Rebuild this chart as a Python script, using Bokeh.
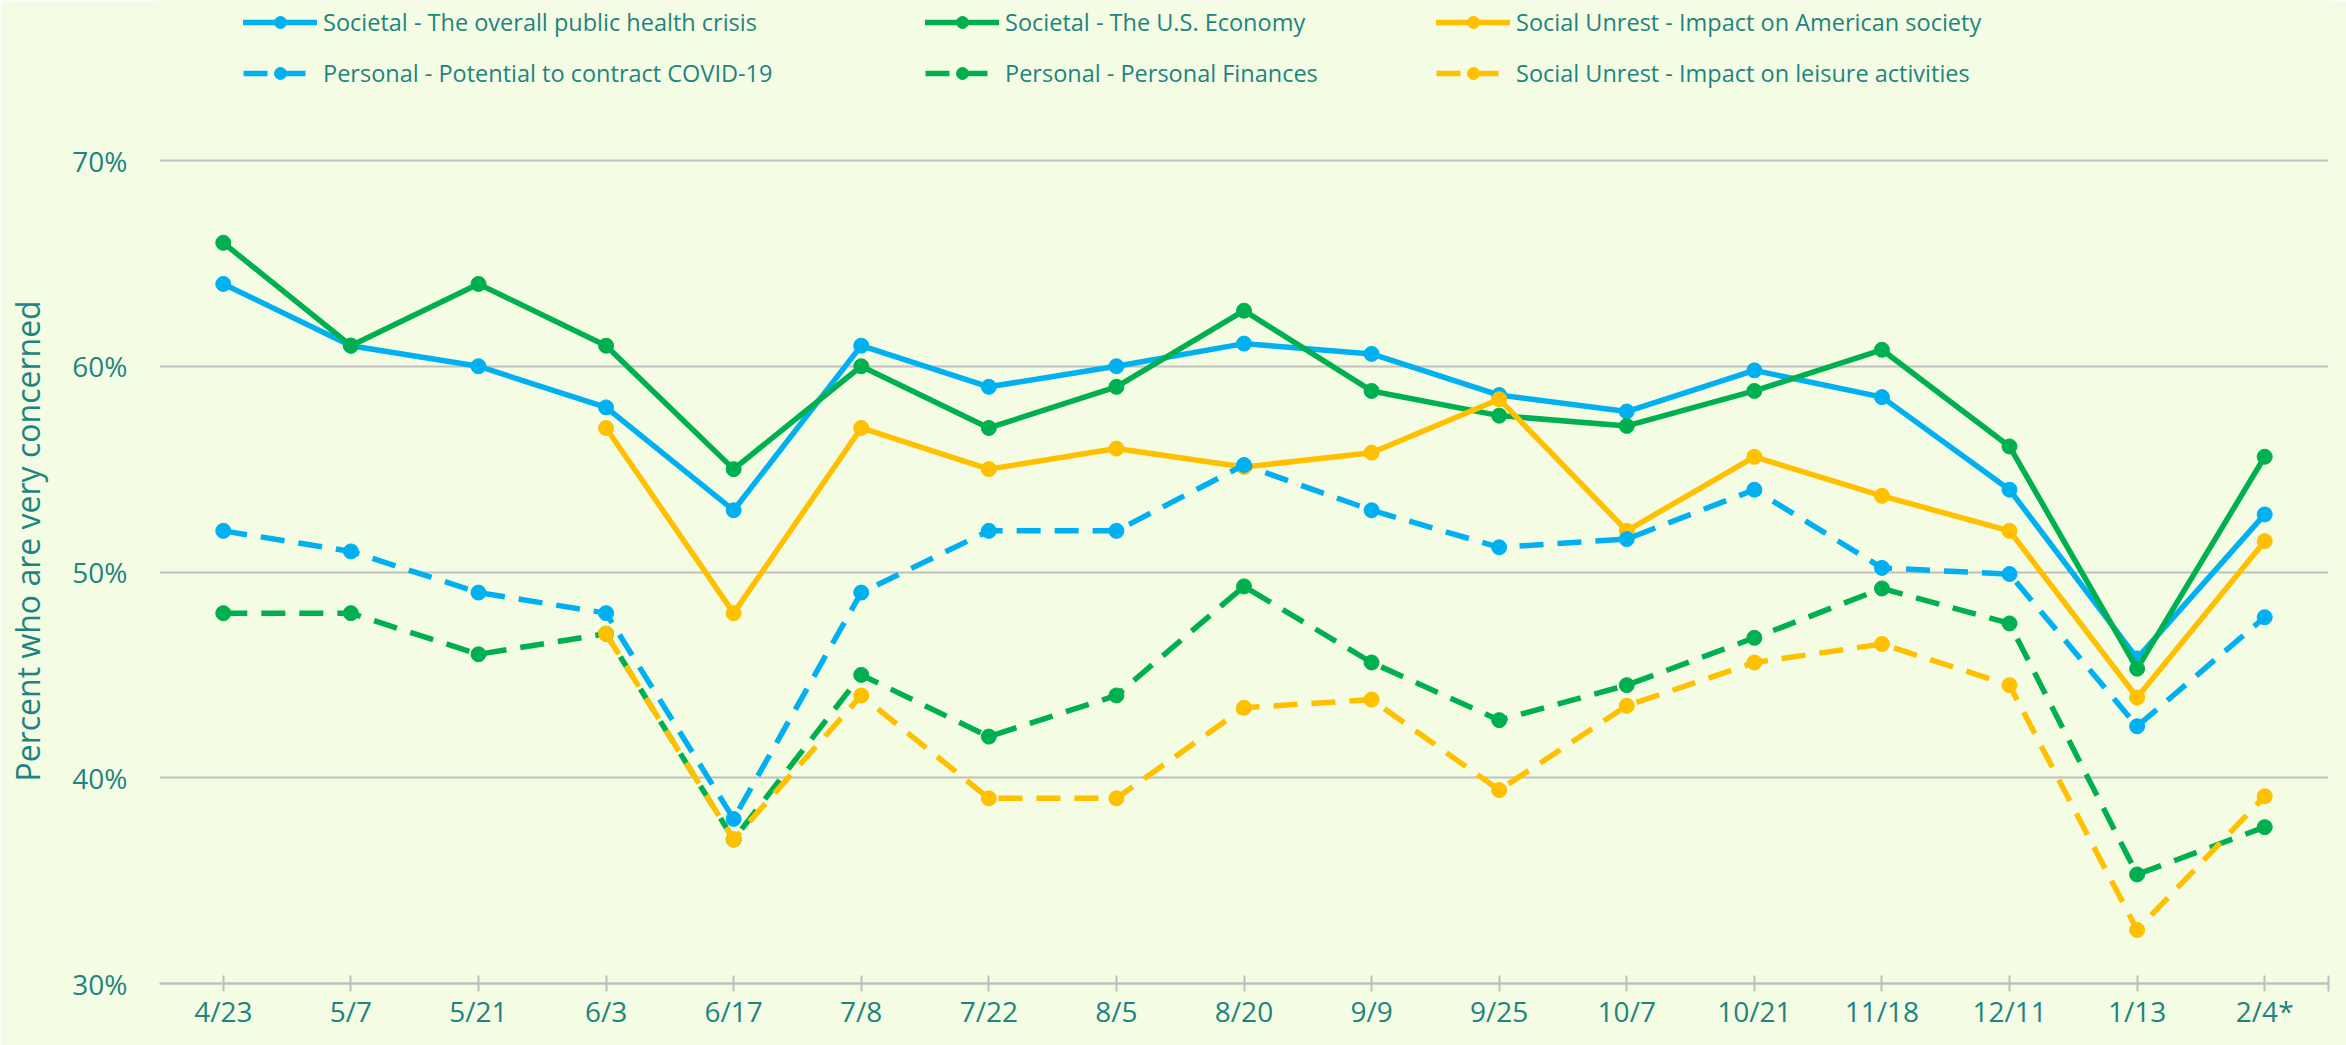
from bokeh.plotting import figure
from bokeh.models import (Range1d, FixedTicker, Legend, LegendItem, Title,
                          PrintfTickFormatter)
from bokeh.embed import file_html
from bokeh.resources import INLINE

nan = float("nan")

# ---- data ----
categories = ["4/23", "5/7", "5/21", "6/3", "6/17", "7/8", "7/22", "8/5", "8/20",
              "9/9", "9/25", "10/7", "10/21", "11/18", "12/11", "1/13", "2/4*"]
societal_health = [64, 61, 60, 58, 53, 61, 59, 60, 61.1, 60.6, 58.6, 57.8, 59.8, 58.5, 54.0, 45.8, 52.8]
societal_economy = [66, 61, 64, 61, 55, 60, 57, 59, 62.7, 58.8, 57.6, 57.1, 58.8, 60.8, 56.1, 45.3, 55.6]
unrest_society = [nan, nan, nan, 57, 48, 57, 55, 56, 55.1, 55.8, 58.4, 52.0, 55.6, 53.7, 52.0, 43.9, 51.5]
personal_covid = [52, 51, 49, 48, 38, 49, 52, 52, 55.2, 53.0, 51.2, 51.6, 54.0, 50.2, 49.9, 42.5, 47.8]
personal_finances = [48, 48, 46, 47, 37, 45, 42, 44, 49.3, 45.6, 42.8, 44.5, 46.8, 49.2, 47.5, 35.3, 37.6]
unrest_leisure = [nan, nan, nan, 47, 37, 44, 39, 39, 43.4, 43.8, 39.4, 43.5, 45.6, 46.5, 44.5, 32.6, 39.1]
y_ticks = [30, 40, 50, 60, 70]

series = [
    ("Societal - The overall public health crisis", societal_health, "#00B0F0", "solid"),
    ("Societal - The U.S. Economy", societal_economy, "#00B050", "solid"),
    ("Social Unrest - Impact on American society", unrest_society, "#FFC000", "solid"),
    ("Personal - Potential to contract COVID-19", personal_covid, "#00B0F0", "24 14"),
    ("Personal - Personal Finances", personal_finances, "#00B050", "24 14"),
    ("Social Unrest - Impact on leisure activities", unrest_leisure, "#FFC000", "24 14"),
]

BG = "#F4FCE3"
TEXT = "#1E8480"
GRID = "#C0C0C0"
FONT = "Open Sans"

xs = list(range(len(categories)))

# frame: bottom at 30% (y=983), 70% gridline at y=160; frame reaches the top of
# the canvas so that the legend sits inside it
PX_PER_UNIT = 823 / 40.0
y_top = 70 + 160 / PX_PER_UNIT

p = figure(width=2346, height=1045, output_backend="svg", toolbar_location=None,
           x_range=Range1d(-0.5, len(categories) - 0.5), y_range=Range1d(30, y_top),
           min_border_left=159, min_border_right=18, min_border_top=0,
           min_border_bottom=62)
p.background_fill_color = BG
p.border_fill_color = BG
p.outline_line_color = None

# x axis
p.xaxis.ticker = FixedTicker(ticks=xs + [len(categories) - 0.5])
overrides = {i: c for i, c in enumerate(categories)}
overrides[len(categories) - 0.5] = ""
p.xaxis.major_label_overrides = overrides
p.xaxis.axis_line_color = GRID
p.xaxis.axis_line_width = 2.5
p.xaxis.major_tick_line_color = GRID
p.xaxis.major_tick_line_width = 2
p.xaxis.major_tick_in = 8
p.xaxis.major_tick_out = 8
p.xaxis.minor_tick_line_color = None
p.xaxis.major_label_standoff = 0
p.xaxis.major_label_text_font = FONT
p.xaxis.major_label_text_font_size = "28px"
p.xaxis.major_label_text_color = TEXT
p.xgrid.grid_line_color = None

# y axis
p.yaxis.ticker = FixedTicker(ticks=y_ticks)
p.yaxis.formatter = PrintfTickFormatter(format="%d%%")
p.yaxis.axis_line_color = None
p.yaxis.major_tick_line_color = None
p.yaxis.minor_tick_line_color = None
p.yaxis.major_tick_in = 0
p.yaxis.major_tick_out = 0
p.yaxis.major_label_standoff = 32
p.yaxis.major_label_text_font = FONT
p.yaxis.major_label_text_font_size = "28px"
p.yaxis.major_label_text_color = TEXT
# blank spacer label: pushes the real title (below) towards the left edge
p.yaxis.axis_label = " "
p.yaxis.axis_label_text_font = FONT
p.yaxis.axis_label_text_font_size = "10px"
p.yaxis.axis_label_standoff = 1
p.ygrid.ticker = FixedTicker(ticks=y_ticks[1:])
p.ygrid.grid_line_color = GRID
p.ygrid.grid_line_width = 2

ytitle = Title(text="Percent who are very concerned", align="left", offset=202,
               standoff=6, text_font=FONT, text_font_size="32px",
               text_font_style="normal", text_color=TEXT)
p.add_layout(ytitle, "left")

items = []
for name, vals, color, dash in series:
    lr = p.line(xs, vals, line_color=color, line_width=5.5, line_dash=dash,
                line_join="round", line_cap="round" if dash == "solid" else "butt")
    sr = p.scatter(xs, vals, marker="circle", size=15, fill_color=color,
                   line_color=color)
    items.append(LegendItem(label=name, renderers=[lr, sr]))

col_x = [84, 766, 1277]
for ci in range(3):
    lg = Legend(items=[items[ci], items[ci + 3]], orientation="vertical",
                location=(col_x[ci], 894))
    lg.padding = 0
    lg.margin = 0
    lg.border_line_color = None
    lg.background_fill_alpha = 0
    lg.glyph_width = 74
    lg.glyph_height = 30
    lg.label_height = 30
    lg.spacing = 19
    lg.label_standoff = 6
    lg.label_text_font = FONT
    lg.label_text_font_size = "23.5px"
    lg.label_text_color = TEXT
    p.add_layout(lg, "center")

open("out.html", "w").write(file_html(p, INLINE))
